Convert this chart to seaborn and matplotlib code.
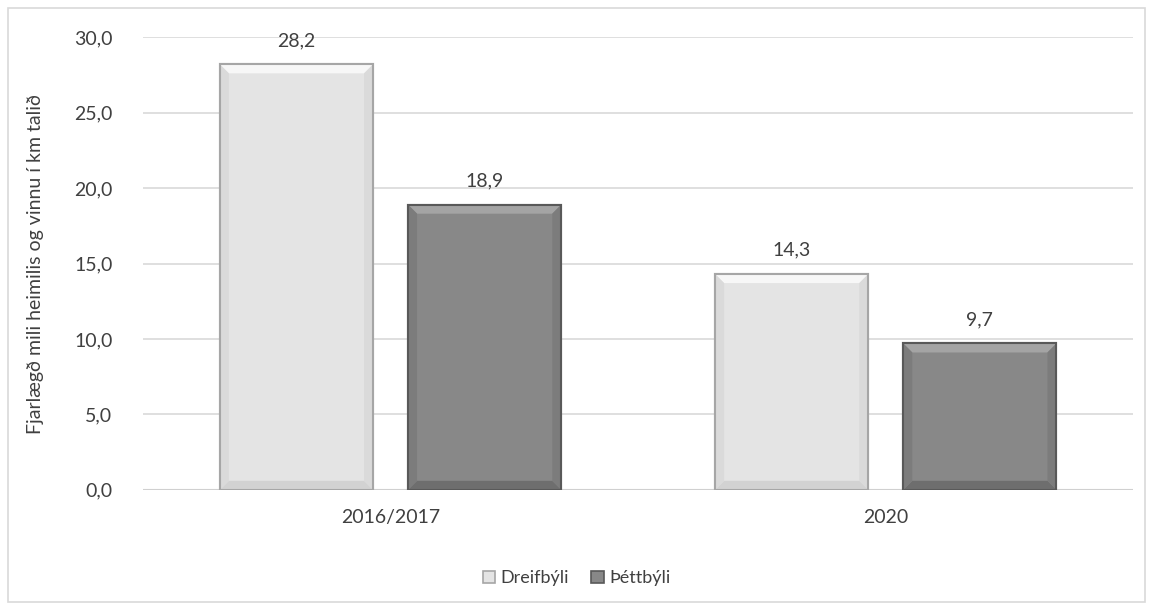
import pandas as pd
import matplotlib.pyplot as plt
import seaborn as sns
from matplotlib.patches import Patch, Rectangle, Polygon

# Gögn lesin af myndinni
years = ['2016/2017', '2020']
areas = ['Dreifbýli', 'Þéttbýli']
dreifbyli = [28.2, 14.3]
thettbyli = [18.9, 9.7]

df = pd.DataFrame({
    'Ár': years * 2,
    'Svæði': [areas[0]] * 2 + [areas[1]] * 2,
    'km': dreifbyli + thettbyli,
})

sns.set_style("white")
plt.rcParams['font.family'] = ['Lato', 'DejaVu Sans']
text_color = '#404040'
fs = 14

fig = plt.figure(figsize=(11.53, 6.10), dpi=100)
ax = fig.add_axes([0.124, 0.197, 0.859, 0.742])

palette = {'Dreifbýli': '#e4e4e4', 'Þéttbýli': '#888888'}
edges = {'Dreifbýli': '#a6a6a6', 'Þéttbýli': '#595959'}
# ljós/dökk skáflötur (bevel) eins og í Excel
bevel = {'Dreifbýli': ('#f7f7f7', '#d2d2d2', '#dadada'),
         'Þéttbýli': ('#a4a4a4', '#6e6e6e', '#7c7c7c')}

sns.barplot(data=df, x='Ár', y='km', hue='Svæði', hue_order=areas,
            palette=palette, width=0.76, gap=0.186, legend=False, ax=ax,
            linewidth=1.5, edgecolor='#999999', zorder=3)

ax.set_ylim(0, 30)
ax.set_xlim(-0.5, 1.5)

# stærð skáflatar í gagnaeiningum (~9 px)
px_x = 2.0 / (0.859 * 1153)
px_y = 30.0 / (0.742 * 610)
bx, by = 9 * px_x, 9 * px_y

for cont, name in zip(ax.containers, areas):
    top_c, bot_c, side_c = bevel[name]
    for bar in cont:
        bar.set_edgecolor(edges[name])
        x0, w, h = bar.get_x(), bar.get_width(), bar.get_height()
        x1 = x0 + w
        polys = [
            ([(x0, h), (x1, h), (x1 - bx, h - by), (x0 + bx, h - by)], top_c),
            ([(x0, 0), (x1, 0), (x1 - bx, by), (x0 + bx, by)], bot_c),
            ([(x0, 0), (x0 + bx, by), (x0 + bx, h - by), (x0, h)], side_c),
            ([(x1, 0), (x1 - bx, by), (x1 - bx, h - by), (x1, h)], side_c),
        ]
        for pts, c in polys:
            ax.add_patch(Polygon(pts, closed=True, facecolor=c, edgecolor='none', zorder=3.5))
        ax.add_patch(Rectangle((x0, 0), w, h, fill=False, edgecolor=edges[name], linewidth=1.5, zorder=4))
    ax.bar_label(cont, labels=[f'{v:.1f}'.replace('.', ',') for v in cont.datavalues],
                 padding=11, fontsize=fs, color=text_color)

ax.set_yticks([0, 5, 10, 15, 20, 25, 30])
ax.set_yticklabels([f'{v:.1f}'.replace('.', ',') for v in [0, 5, 10, 15, 20, 25, 30]])
ax.grid(True, axis='y', color='#d9d9d9', linewidth=1.2, zorder=0)
ax.set_axisbelow(True)
for s in ax.spines.values():
    s.set_visible(False)
ax.axhline(0, color='#d0d0d0', linewidth=1.5, zorder=1)

ax.tick_params(axis='both', length=0, labelsize=fs, colors=text_color, pad=22)
ax.tick_params(axis='x', pad=14)
ax.set_xlabel('')
ax.set_ylabel('Fjarlægð mili heimilis og vinnu í km talið', fontsize=fs, color=text_color)
ax.yaxis.set_label_coords(-0.1, 0.5)

handles = [Patch(facecolor=palette[a], edgecolor=edges[a], linewidth=1.2, label=a) for a in areas]
fig.legend(handles=handles, loc='center', bbox_to_anchor=(0.5, 0.052), ncol=2, frameon=False,
           fontsize=fs - 1, handlelength=0.7, handleheight=0.7, handletextpad=0.3, columnspacing=1.2,
           labelcolor=text_color)

# rammi utan um myndina
fig.patches.append(Rectangle((8 / 1153, 8 / 610), 1137 / 1153, 594 / 610, transform=fig.transFigure,
                             fill=False, edgecolor='#d9d9d9', linewidth=1.2))

fig.savefig('out.png', dpi=100)
